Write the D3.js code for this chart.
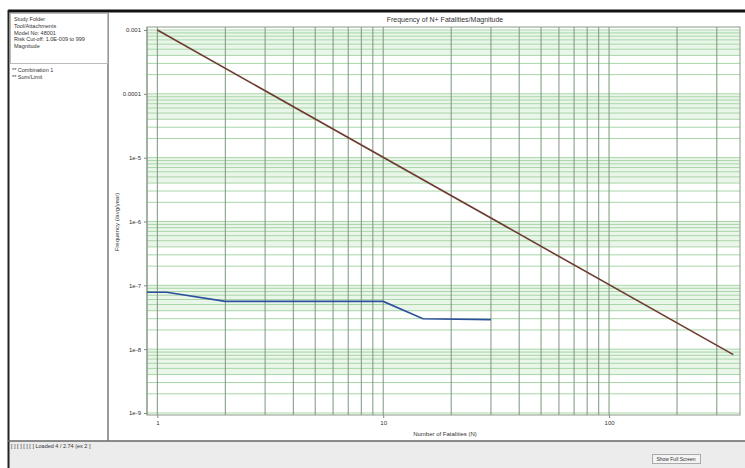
<!DOCTYPE html>
<html>
<head>
<meta charset="utf-8">
<script src="https://cdn.jsdelivr.net/npm/d3@7"></script>
<style>
  body { margin: 0; background: #fff; font-family: "Liberation Sans", Arial, sans-serif; }
  svg text { fill: #333; }
</style>
</head>
<body>
<div id="chart"></div>
<script>
// criterion line (N, F)
const limitN = [1, 355];
const limitF = [1e-3, 8.2e-9];
// combination 1 curve
const comboN = [0.9, 1.1, 2, 10, 15, 30];
const comboF = [7.8e-8, 7.8e-8, 5.6e-8, 5.6e-8, 3.0e-8, 2.9e-8];

const yTicks = [1e-3, 1e-4, 1e-5, 1e-6, 1e-7, 1e-8, 1e-9];
const yTickLabels = ["0.001", "0.0001", "1e-5", "1e-6", "1e-7", "1e-8", "1e-9"];
const xTicks = [1, 10, 100];
const xTickLabels = ["1", "10", "100"];

const infoLines = ["Study Folder", "Tool/Attachments", "Model No: 48001", "Risk Cut-off: 1.0E-009 to 999", "Magnitude"];
const legendItems = ["** Combination 1", "** Sum/Limit"];

const W = 745, H = 468;
const plot = { left: 147, right: 740, top: 27, bottom: 415 };

const svg = d3.select("#chart").append("svg")
    .attr("width", W)
    .attr("height", H);

// window frame
svg.append("rect").attr("x", 0).attr("y", 0).attr("width", W).attr("height", H).attr("fill", "#fff");
svg.append("rect").attr("x", 8).attr("y", 441).attr("width", W - 8).attr("height", H - 441).attr("fill", "#ececec");
svg.append("line").attr("x1", 8).attr("x2", W).attr("y1", 11).attr("y2", 11).attr("stroke", "#111").attr("stroke-width", 3);
svg.append("line").attr("x1", 8.5).attr("x2", 8.5).attr("y1", 10).attr("y2", H).attr("stroke", "#222").attr("stroke-width", 2);
svg.append("line").attr("x1", 8).attr("x2", W).attr("y1", 441).attr("y2", 441).attr("stroke", "#666").attr("stroke-width", 1.5);
svg.append("line").attr("x1", 108).attr("x2", 108).attr("y1", 12).attr("y2", 441).attr("stroke", "#777").attr("stroke-width", 1.5);

// info box + legend in left panel
svg.append("rect").attr("x", 10.5).attr("y", 13.5).attr("width", 97).attr("height", 50)
    .attr("fill", "none").attr("stroke", "#bbb");
svg.selectAll(".info").data(infoLines).enter().append("text")
    .attr("x", 14).attr("y", (d, i) => 21 + i * 6.8)
    .attr("font-size", 5.5).text(d => d);
svg.selectAll(".legend").data(legendItems).enter().append("text")
    .attr("x", 12).attr("y", (d, i) => 72 + i * 7)
    .attr("font-size", 5.5).text(d => d);

// status bar
svg.append("text").attr("x", 11).attr("y", 448).attr("font-size", 5.5)
    .text("[ ] [ ] [ ] [ ]  Loaded 4 / 2.74 (ex 2 ]");
svg.append("rect").attr("x", 652.5).attr("y", 454.5).attr("width", 48).attr("height", 9)
    .attr("fill", "#f4f4f4").attr("stroke", "#aaa");
svg.append("text").attr("x", 676).attr("y", 461).attr("font-size", 5).attr("text-anchor", "middle")
    .text("Show Full Screen");

// scales
const x = d3.scaleLog().domain([0.9, 380]).range([plot.left, plot.right]);
const y = d3.scaleLog().domain([1e-9, 1e-3]).range([413, 30]);

const g = svg.append("g");

// minor grid values
const yMinor = [];
for (let e = -9; e < -2; e++) {
    for (let m = 1; m < 10; m++) {
        const v = m * Math.pow(10, e);
        if (v <= 1.1e-3) yMinor.push(v);
    }
}
const xMinor = [];
for (let e = -1; e < 3; e++) {
    for (let m = 1; m < 10; m++) {
        const v = m * Math.pow(10, e);
        if (v >= 0.9 && v <= 380) xMinor.push(v);
    }
}

// light green bands, upper part of each decade
const bands = yTicks.slice(0, 6).map(v => [v * 0.4, v]);
g.selectAll(".band").data(bands).enter().append("rect")
    .attr("x", plot.left).attr("width", plot.right - plot.left)
    .attr("y", d => y(d[1])).attr("height", d => y(d[0]) - y(d[1]))
    .attr("fill", "#eaf6ea");

g.selectAll(".hgrid").data(yMinor).enter().append("line")
    .attr("x1", plot.left).attr("x2", plot.right)
    .attr("y1", d => y(d)).attr("y2", d => y(d))
    .attr("stroke", "#a8d6a8").attr("stroke-width", 1);

g.selectAll(".vgrid").data(xMinor).enter().append("line")
    .attr("y1", plot.top).attr("y2", plot.bottom)
    .attr("x1", d => x(d)).attr("x2", d => x(d))
    .attr("stroke", "#7d957d").attr("stroke-width", 1);

// plot border
g.append("rect").attr("x", plot.left).attr("y", plot.top)
    .attr("width", plot.right - plot.left).attr("height", plot.bottom - plot.top)
    .attr("fill", "none").attr("stroke", "#8a9a8a");

// axes
const yAxis = d3.axisLeft(y).tickValues(yTicks).tickSize(3)
    .tickFormat((d, i) => yTickLabels[i]);
const ya = g.append("g").attr("transform", `translate(${plot.left},0)`).call(yAxis);
ya.select(".domain").remove();
ya.selectAll("text").attr("font-size", 6).attr("fill", "#444");
ya.selectAll("line").attr("stroke", "#888");

const xAxis = d3.axisBottom(x).tickValues(xTicks).tickSize(3)
    .tickFormat((d, i) => xTickLabels[i]);
const xa = g.append("g").attr("transform", `translate(0,${plot.bottom})`).call(xAxis);
xa.select(".domain").remove();
xa.selectAll("text").attr("font-size", 6).attr("fill", "#444");
xa.selectAll("line").attr("stroke", "#888");

// lines
const line = d3.line().x(d => x(d[0])).y(d => y(d[1]));
g.append("path").datum(comboN.map((n, i) => [n, comboF[i]]))
    .attr("d", line).attr("fill", "none")
    .attr("stroke", "#2e4f9c").attr("stroke-width", 1.6);
g.append("path").datum(limitN.map((n, i) => [n, limitF[i]]))
    .attr("d", line).attr("fill", "none")
    .attr("stroke", "#6e3c30").attr("stroke-width", 1.6);

// titles
svg.append("text").attr("x", 445).attr("y", 22).attr("text-anchor", "middle")
    .attr("font-size", 7).text("Frequency of N+ Fatalities/Magnitude");
svg.append("text").attr("x", 445).attr("y", 436).attr("text-anchor", "middle")
    .attr("font-size", 6).text("Number of Fatalities (N)");
svg.append("text").attr("transform", "translate(119,222) rotate(-90)")
    .attr("text-anchor", "middle").attr("font-size", 6)
    .text("Frequency (/avg/year)");
</script>
</body>
</html>
